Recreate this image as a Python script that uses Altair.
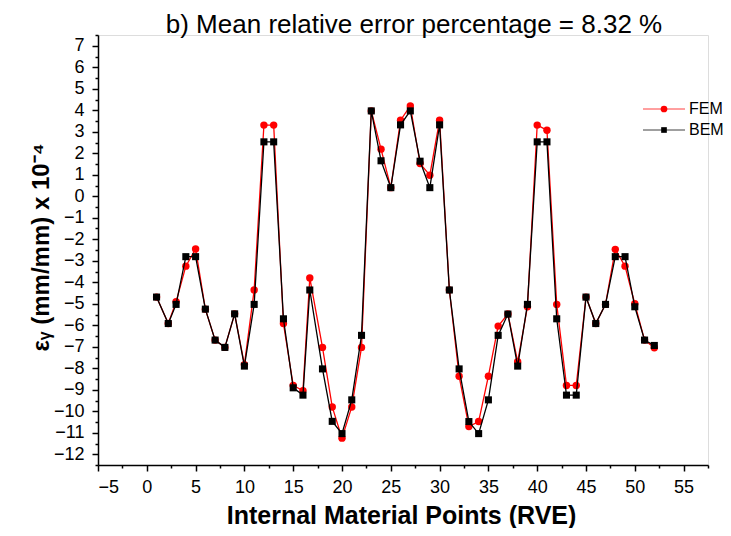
import altair as alt
import pandas as pd

# ---- data ----
points = [1, 2.2, 3, 4, 5, 6, 7, 8, 9, 10, 11, 12, 13, 14, 15, 16, 16.7, 18, 19, 20,
          21, 22, 23, 24, 25, 26, 27, 28, 29, 30, 31, 32, 33, 34, 35, 36, 37, 38, 39, 40,
          41, 42, 43, 44, 45, 46, 47, 48, 49, 50, 51, 52]
fem = [-4.69, -5.92, -4.91, -3.25, -2.45, -5.25, -6.69, -7.03, -5.47, -7.83,
       -4.36, 3.31, 3.31, -5.92, -8.80, -9.04, -3.80, -7.03, -9.80, -11.25,
       -9.80, -7.03, 3.97, 2.19, 0.40, 3.54, 4.20, 1.52, 0.98, 3.54,
       -4.36, -8.37, -10.71, -10.48, -8.37, -6.04, -5.48, -7.70, -5.14, 3.31,
       3.07, -5.03, -8.80, -8.80, -4.69, -5.92, -5.03, -2.47, -3.25, -5.00,
       -6.69, -7.05]
bem = [-4.69, -5.92, -5.03, -2.81, -2.81, -5.25, -6.69, -7.03, -5.47, -7.90,
       -5.03, 2.53, 2.53, -5.70, -8.91, -9.25, -4.36, -8.03, -10.47, -11.04,
       -9.47, -6.47, 3.97, 1.65, 0.40, 3.32, 3.97, 1.63, 0.40, 3.32,
       -4.36, -8.03, -10.48, -11.04, -9.47, -6.47, -5.48, -7.90, -5.03, 2.53,
       2.53, -5.70, -9.25, -9.25, -4.69, -5.92, -5.03, -2.81, -2.81, -5.14,
       -6.69, -6.94]
series_names = ["FEM", "BEM"]
series_colors = ["#ff0000", "#000000"]
series_shapes = ["circle", "square"]

x_ticks = [v * 2.5 for v in range(-2, 24)]      # -5 .. 57.5
y_ticks = [v * 0.5 for v in range(-25, 16)]     # -12.5 .. 7.5

FONT = "Liberation Sans"

x_enc = alt.X(
    "x:Q",
    scale=alt.Scale(domain=[-5, 57.5], nice=False, zero=False),
    axis=alt.Axis(
        values=x_ticks,
        labelExpr="datum.value % 5 === 0 ? format(datum.value, 'd') : ''",
        labelOverlap=False,
        grid=False,
        tickSize={"condition": {"test": "datum.value % 5 === 0", "value": 6}, "value": 3},
        tickColor="black", tickWidth=1.5,
        domainColor="black", domainWidth=1.5,
        labelFont=FONT, labelFontSize=18, labelColor="black", labelPadding=7,
        title="Internal Material Points (RVE)",
        titleFont=FONT, titleFontSize=25, titleFontWeight="bold", titleColor="black",
        titleBaseline="alphabetic", titleY=58, titleX=303,
    ),
)
y_enc = alt.Y(
    "y:Q",
    scale=alt.Scale(domain=[-12.5, 7.5], nice=False, zero=False),
    axis=alt.Axis(
        values=y_ticks,
        labelExpr="datum.value % 1 === 0 ? format(datum.value, 'd') : ''",
        labelOverlap=False,
        grid=False,
        tickSize={"condition": {"test": "datum.value % 1 === 0", "value": 6}, "value": 3},
        tickColor="black", tickWidth=1.5,
        domainColor="black", domainWidth=1.5,
        labelFont=FONT, labelFontSize=18, labelColor="black", labelPadding=8,
        title="εᵧ (mm/mm) x 10⁻⁴",
        titleFont=FONT, titleFontSize=24, titleFontWeight="bold", titleColor="black",
        titleAngle=270, titleBaseline="alphabetic", titleAlign="center",
        titleX=-50, titleY=212,
    ),
)

layers = []
legend_layers = []
legend_y = [74, 95]
legend_sizes = [45, 32]
for name, col, shp, vals, ly, ls in zip(series_names, series_colors, series_shapes,
                                         [fem, bem], legend_y, legend_sizes):
    df = pd.DataFrame({"x": points, "y": vals, "series": name})
    line = alt.Chart(df).mark_line(color=col, strokeWidth=1.3).encode(x=x_enc, y=y_enc)
    pts = alt.Chart(df).mark_point(
        filled=True, shape=shp, size=55 if shp == "circle" else 50,
        color=col, opacity=1, strokeWidth=0
    ).encode(x=x_enc, y=y_enc)
    layers += [line, pts]

    ldf = pd.DataFrame({"series": [name]})
    lrule = alt.Chart(ldf).mark_rule(color=col, strokeWidth=1, opacity=0.75).encode(
        x=alt.value(545), x2=alt.value(587), y=alt.value(ly))
    lpt = alt.Chart(ldf).mark_point(filled=True, shape=shp, size=ls, color=col,
                                    opacity=1, strokeWidth=0).encode(
        x=alt.value(566), y=alt.value(ly))
    ltxt = alt.Chart(ldf).mark_text(align="left", baseline="middle", font=FONT,
                                    fontSize=16, color="black").encode(
        x=alt.value(591), y=alt.value(ly), text="series:N")
    legend_layers += [lrule, lpt, ltxt]

chart = alt.layer(*layers, *legend_layers).properties(
    width=610,
    height=430,
    autosize=alt.AutoSizeParams(type="none"),
    padding={"left": 90, "top": 27, "right": 15, "bottom": 63},
    title=alt.TitleParams(
        "b) Mean relative error percentage = 8.32 %",
        font=FONT, fontSize=26, fontWeight="normal", color="black",
        anchor="middle", baseline="alphabetic", offset=-33, dx=11,
    ),
).configure_view(strokeWidth=0).configure(background="white")

chart.save("out.html", embed_options={"renderer": "svg", "actions": False})
